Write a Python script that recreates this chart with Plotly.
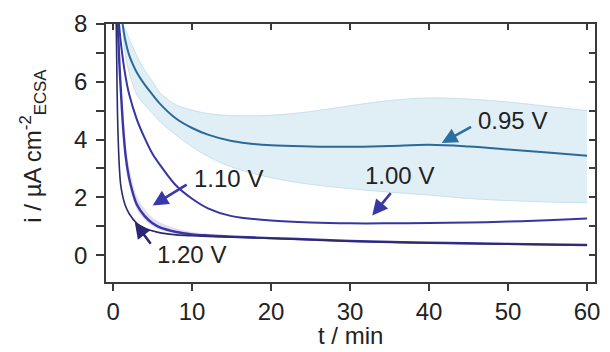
import plotly.graph_objects as go

# --- chronoamperometry data: current density vs time at four potentials ---
t_095 = [1.2, 1.5, 2, 2.5, 3, 4, 5, 6, 8, 10, 12, 15, 20, 25, 30, 35, 40, 45, 50, 55, 60]
i_095 = [8.0, 7.5, 6.95, 6.6, 6.32, 5.9, 5.55, 5.22, 4.72, 4.4, 4.17, 3.95, 3.8, 3.76, 3.75, 3.78, 3.82, 3.76, 3.66, 3.55, 3.44]
i_095_hi = [8.0, 7.85, 7.5, 7.2, 6.9, 6.4, 6.0, 5.6, 5.2, 5.02, 4.9, 4.83, 4.84, 4.97, 5.17, 5.35, 5.44, 5.4, 5.3, 5.15, 5.0]
i_095_lo = [8.0, 7.0, 6.35, 5.9, 5.55, 5.2, 4.9, 4.6, 4.15, 3.75, 3.42, 3.05, 2.68, 2.45, 2.3, 2.18, 2.08, 1.96, 1.89, 1.84, 1.82]

t_100 = [0.75, 1, 1.5, 2, 3, 4, 5, 6, 8, 10, 12, 15, 20, 25, 30, 35, 40, 45, 50, 55, 60]
i_100 = [8.0, 7.3, 6.3, 5.6, 4.7, 4.05, 3.5, 3.1, 2.4, 1.95, 1.62, 1.35, 1.2, 1.13, 1.1, 1.1, 1.11, 1.13, 1.16, 1.21, 1.27]

t_110 = [0.6, 0.8, 1.0, 1.3, 1.6, 2, 2.5, 3, 4, 5, 6, 8, 10, 12, 15, 20, 25, 30, 40, 50, 60]
i_110 = [8.0, 6.6, 5.6, 4.3, 3.4, 2.7, 2.15, 1.75, 1.35, 1.1, 0.95, 0.8, 0.72, 0.68, 0.64, 0.59, 0.54, 0.49, 0.43, 0.39, 0.35]
i_110_hi = [8.0, 7.0, 6.1, 4.9, 3.9, 3.1, 2.5, 2.05, 1.6, 1.3, 1.12, 0.92, 0.8, 0.74, 0.68, 0.61, 0.56, 0.51, 0.45, 0.4, 0.36]
i_110_lo = [8.0, 6.3, 5.2, 4.0, 3.1, 2.45, 1.95, 1.58, 1.22, 1.0, 0.87, 0.74, 0.67, 0.64, 0.61, 0.57, 0.52, 0.47, 0.41, 0.38, 0.34]

t_120 = [0.4, 0.5, 0.6, 0.8, 1.0, 1.5, 2, 3, 4, 5, 6, 8, 10, 12, 15, 20, 25, 30, 40, 50, 60]
i_120 = [8.0, 5.8, 4.4, 3.0, 2.35, 1.75, 1.45, 1.1, 0.93, 0.84, 0.77, 0.7, 0.67, 0.65, 0.62, 0.58, 0.53, 0.48, 0.42, 0.38, 0.34]

x_ticks = [0, 10, 20, 30, 40, 50, 60]
y_ticks = [0, 1, 2, 3, 4, 5, 6, 7, 8]
y_ticktext = ["0", "", "2", "", "4", "", "6", "", "8"]

# label text, label position, arrow tail, arrow tip, colour
labels = [
    ("0.95 V", (50.6, 4.67), (45.5, 4.47), (41.6, 3.88), "#2a6fa0"),
    ("1.00 V", (36.3, 2.75), (35.3, 2.2), (32.8, 1.37), "#3838a4"),
    ("1.10 V", (14.6, 2.65), (9.5, 2.47), (5.0, 1.72), "#3a38a8"),
    ("1.20 V", (9.9, 0.03), (4.9, 0.34), (2.75, 1.13), "#2a2870"),
]

FONT = "Liberation Sans, Arial, sans-serif"
AXC = "#3a3a3a"
FS = 24

fig = go.Figure()

# 0.95 V spread band
fig.add_trace(go.Scatter(x=t_095, y=i_095_lo, mode="lines", line=dict(color="#c9e0ec", width=1, shape="spline"),
                         showlegend=False, hoverinfo="skip"))
fig.add_trace(go.Scatter(x=t_095, y=i_095_hi, mode="lines", line=dict(color="#c9e0ec", width=1, shape="spline"),
                         fill="tonexty", fillcolor="rgba(214,233,243,0.75)", showlegend=False, hoverinfo="skip"))
# 1.10 V spread band
fig.add_trace(go.Scatter(x=t_110, y=i_110_lo, mode="lines", line=dict(color="rgba(0,0,0,0)", width=0, shape="spline"),
                         showlegend=False, hoverinfo="skip"))
fig.add_trace(go.Scatter(x=t_110, y=i_110_hi, mode="lines", line=dict(color="rgba(0,0,0,0)", width=0, shape="spline"),
                         fill="tonexty", fillcolor="rgba(170,160,225,0.35)", showlegend=False, hoverinfo="skip"))

fig.add_trace(go.Scatter(x=t_095, y=i_095, mode="lines", name="0.95 V",
                         line=dict(color="#2a6a9a", width=2, shape="spline")))
fig.add_trace(go.Scatter(x=t_100, y=i_100, mode="lines", name="1.00 V",
                         line=dict(color="#3636a0", width=2, shape="spline")))
fig.add_trace(go.Scatter(x=t_110, y=i_110, mode="lines", name="1.10 V",
                         line=dict(color="#3a36a2", width=2.4, shape="spline")))
fig.add_trace(go.Scatter(x=t_120, y=i_120, mode="lines", name="1.20 V",
                         line=dict(color="#2b2a6a", width=1.6, shape="spline")))

# invisible trace carrying the top/right frame axes
fig.add_trace(go.Scatter(x=[0], y=[0], xaxis="x2", yaxis="y2", mode="markers",
                         marker=dict(opacity=0), showlegend=False, hoverinfo="skip"))

for text, (lx, ly), (ax, ay), (tx, ty), col in labels:
    fig.add_annotation(x=lx, y=ly, text=text, showarrow=False, xref="x", yref="y",
                       font=dict(size=FS, color="#222222", family=FONT))
    fig.add_annotation(x=tx, y=ty, ax=ax, ay=ay, xref="x", yref="y", axref="x", ayref="y",
                       text="", showarrow=True, arrowhead=2, arrowsize=1.2, arrowwidth=2.6,
                       arrowcolor=col, standoff=0, startstandoff=0)

# axis titles
fig.add_annotation(x=-0.15, y=0.527, xref="paper", yref="paper", textangle=-90,
                   text="i / µA cm<sup>-2</sup><sub>ECSA</sub>", showarrow=False,
                   xanchor="center", yanchor="middle",
                   font=dict(size=FS, color="#222222", family=FONT))
fig.add_annotation(x=0.5, y=-0.208, xref="paper", yref="paper", text="t / min", showarrow=False,
                   xanchor="center", yanchor="middle",
                   font=dict(size=FS, color="#222222", family=FONT))

fig.update_layout(
    width=610, height=352,
    margin=dict(l=106, r=10, t=22, b=70),
    paper_bgcolor="white", plot_bgcolor="white",
    showlegend=False,
    font=dict(family=FONT, size=FS, color="#222222"),
    xaxis=dict(range=[-0.9, 61], tickvals=x_ticks, ticks="outside", ticklen=7, tickwidth=1.5,
               tickcolor=AXC, showline=True, linecolor=AXC, linewidth=1.8, showgrid=False,
               zeroline=False, tickfont=dict(size=FS)),
    yaxis=dict(range=[-0.93, 8.0], tickvals=y_ticks, ticktext=y_ticktext, ticks="outside",
               ticklen=8, tickwidth=1.5, tickcolor=AXC, showline=True, linecolor=AXC,
               linewidth=1.8, showgrid=False, zeroline=False, tickfont=dict(size=FS),
               ticklabelstandoff=4),
    xaxis2=dict(range=[-0.9, 61], overlaying="x", side="top", anchor="y", tickvals=x_ticks,
                ticks="inside", ticklen=6, tickwidth=1.5, tickcolor=AXC, showline=True,
                linecolor=AXC, linewidth=1.8, showticklabels=False, showgrid=False, zeroline=False),
    yaxis2=dict(range=[-0.93, 8.0], overlaying="y", side="right", anchor="x", tickvals=y_ticks,
                ticks="inside", ticklen=6, tickwidth=1.5, tickcolor=AXC, showline=True,
                linecolor=AXC, linewidth=1.8, showticklabels=False, showgrid=False, zeroline=False),
)

fig.write_html("out.html")
